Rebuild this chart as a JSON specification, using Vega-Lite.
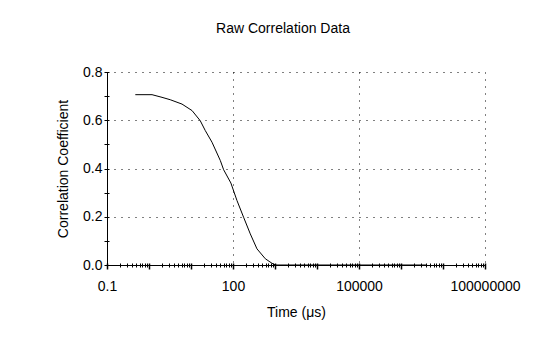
{
  "$schema": "https://vega.github.io/schema/vega-lite/v6.json",
  "autosize": {"type": "none"},
  "width": 378,
  "height": 193,
  "padding": {"left": 107, "top": 72, "right": 63, "bottom": 89},
  "background": "white",
  "title": {"text": "Raw Correlation Data", "anchor": "middle", "frame": "group", "dx": -13, "offset": 29, "fontSize": 14, "fontWeight": "normal", "font": "Liberation Sans", "color": "black"},
  "config": {
    "view": {"stroke": null},
    "axis": {"labelFont": "Liberation Sans", "labelFontSize": 14, "labelColor": "black", "titleFont": "Liberation Sans", "titleFontSize": 14, "titleFontWeight": "normal", "titleColor": "black", "domainColor": "black", "tickColor": "black", "gridColor": "black", "labelFlush": false, "labelOverlap": false}
  },
  "data": {"values": [
    {"t": 0.472, "r": 0.706},
    {"t": 1.18, "r": 0.706},
    {"t": 2.04, "r": 0.695},
    {"t": 3.21, "r": 0.685},
    {"t": 6.11, "r": 0.667},
    {"t": 10.6, "r": 0.640},
    {"t": 16.6, "r": 0.598},
    {"t": 21.9, "r": 0.557},
    {"t": 31.6, "r": 0.509},
    {"t": 49.9, "r": 0.433},
    {"t": 59.8, "r": 0.395},
    {"t": 89.0, "r": 0.340},
    {"t": 124.5, "r": 0.267},
    {"t": 178.6, "r": 0.198},
    {"t": 258, "r": 0.129},
    {"t": 372, "r": 0.067},
    {"t": 587, "r": 0.026},
    {"t": 849, "r": 0.007},
    {"t": 1023, "r": 0.0},
    {"t": 2000, "r": 0.0},
    {"t": 10000, "r": 0.0},
    {"t": 100000, "r": 0.0},
    {"t": 1000000, "r": 0.0},
    {"t": 4000000, "r": 0.0}
  ]},
  "resolve": {"axis": {"x": "independent", "y": "independent"}},
  "layer": [
    {
      "mark": {"type": "line", "strokeOpacity": 0},
      "encoding": {
        "x": {"field": "t", "type": "quantitative", "scale": {"type": "log", "domain": [0.1, 100000000], "nice": false},
          "axis": {"orient": "bottom", "values": [100, 100000, 100000000], "grid": true, "gridDash": [1, 6], "gridWidth": 1, "domain": false, "ticks": false, "labels": false, "title": null, "zindex": 0}},
        "y": {"field": "r", "type": "quantitative", "scale": {"domain": [0, 0.8], "nice": false, "zero": true},
          "axis": {"orient": "left", "values": [0.2, 0.4, 0.6, 0.8], "grid": true, "gridDash": [1, 6], "gridWidth": 1, "domain": false, "ticks": false, "labels": false, "title": null, "zindex": 0}}
      }
    },
    {
      "mark": {"type": "line", "strokeOpacity": 0},
      "encoding": {
        "x": {"field": "t", "type": "quantitative",
          "axis": {"orient": "bottom", "values": [0.1,0.2,0.3,0.4,0.5,0.6,0.7,0.8,0.9,1,2,3,4,5,6,7,8,9,10,20,30,40,50,60,70,80,90,100,200,300,400,500,600,700,800,900,1000,2000,3000,4000,5000,6000,7000,8000,9000,10000,20000,30000,40000,50000,60000,70000,80000,90000,100000,200000,300000,400000,500000,600000,700000,800000,900000,1000000,2000000,3000000,4000000,5000000,6000000,7000000,8000000,9000000,10000000,20000000,30000000,40000000,50000000,60000000,70000000,80000000,90000000,100000000],
            "offset": -2, "tickSize": {"condition": {"test": "abs(log(datum.value)/LN10 - round(log(datum.value)/LN10)) < 0.001", "value": 6}, "value": 4},
            "tickWidth": {"condition": {"test": "abs(log(datum.value)/LN10 - round(log(datum.value)/LN10)) < 0.001", "value": 1.5}, "value": 1},
            "domain": false, "labels": false, "grid": false, "title": null, "zindex": 1}},
        "y": {"field": "r", "type": "quantitative",
          "axis": {"orient": "left", "values": [0, 0.1, 0.2, 0.3, 0.4, 0.5, 0.6, 0.7, 0.8], "offset": -2, "tickSize": 5, "domain": false, "labels": false, "grid": false, "title": null, "zindex": 1}}
      }
    },
    {
      "mark": {"type": "line", "color": "black", "strokeWidth": 1},
      "encoding": {
        "x": {"field": "t", "type": "quantitative",
          "axis": {"orient": "bottom", "values": [0.1, 100, 100000, 100000000], "labelExpr": "datum.value < 1 ? '0.1' : format(datum.value, 'd')", "ticks": false, "tickSize": 0, "labelPadding": 14, "domain": true, "grid": false, "title": "Time (μs)", "titlePadding": 12, "zindex": 1}},
        "y": {"field": "r", "type": "quantitative",
          "axis": {"orient": "left", "values": [0, 0.2, 0.4, 0.6, 0.8], "format": ".1f", "ticks": false, "tickSize": 0, "labelPadding": 5, "domain": true, "grid": false, "title": "Correlation Coefficient", "titlePadding": 12, "zindex": 1}}
      }
    }
  ]
}
